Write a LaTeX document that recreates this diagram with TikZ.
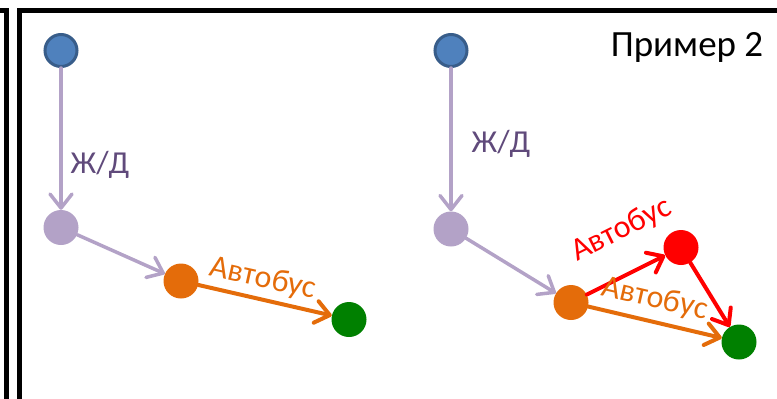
\documentclass[tikz,border=0pt]{standalone}
\usepackage{fontspec}
\setmainfont{Carlito}
\usetikzlibrary{arrows.meta}
\definecolor{nblue}{HTML}{4F81BD}
\definecolor{nblueb}{HTML}{385D8A}
\definecolor{lav}{HTML}{B3A2C7}
\definecolor{lavtxt}{HTML}{604A7B}
\definecolor{org}{HTML}{E46C0A}
\definecolor{grn}{HTML}{008000}
\definecolor{rd}{HTML}{FF0000}
\tikzset{
  dot/.style={circle, inner sep=0pt, minimum size=35pt},
  startdot/.style={dot, fill=nblue, draw=nblueb, line width=3pt, minimum size=32pt},
  lavdot/.style={dot, fill=lav},
  orgdot/.style={dot, fill=org},
  grndot/.style={dot, fill=grn},
  rddot/.style={dot, fill=rd},
  arr/.style={line width=4pt, line cap=round, -{Straight Barb[length=14pt,width=22pt,line cap=round,line join=round]}},
  lavarr/.style={arr, draw=lav, line width=3.5pt},
  orgarr/.style={arr, draw=org},
  rdarr/.style={arr, draw=rd},
  big/.style={font=\fontsize{32}{38}\selectfont},
  title/.style={font=\fontsize{37}{44}\selectfont},
  mid/.style={font=\fontsize{32}{38}\selectfont},
  panel/.style={draw=black, line width=5pt}
}
\begin{document}
\begin{tikzpicture}[x=1pt,y=-1pt]
\useasboundingbox (0,0) rectangle (777,399);
\clip (0,0) rectangle (777,399);
% panels
\draw[panel] (-30,10.5) rectangle (6,430);
\draw[panel] (19,10.5) rectangle (800,430);
% left example
\node[startdot] (a1) at (61,50.5) {};
\node[lavdot] (b1) at (61,227.5) {};
\node[orgdot] (c1) at (181,281) {};
\node[grndot] (d1) at (349,319.5) {};
\draw[lavarr] (a1) -- (b1);
\draw[lavarr] (b1) -- (c1);
\draw[orgarr] (c1) -- (d1);
\node[big, text=lavtxt] (l1) at (100,165) {Ж/Д};
\node[mid, text=org, rotate=-12.5] (m1) at (263,279) {Автобус};
% right example
\node[startdot] (a2) at (451,50.5) {};
\node[lavdot] (b2) at (451,229) {};
\node[orgdot] (c2) at (571,302.5) {};
\node[rddot] (r2) at (681,247.5) {};
\node[grndot] (d2) at (739,342) {};
\draw[lavarr] (a2) -- (b2);
\draw[lavarr] (b2) -- (c2);
\draw[orgarr] (c2) -- (d2);
\draw[rdarr] (c2) -- (r2);
\draw[rdarr] (r2) -- (d2);
\node[big, text=lavtxt] (l2) at (501,144) {Ж/Д};
\node[mid, text=rd, rotate=26.5] (m2) at (621.5,230) {Автобус};
\node[mid, text=org, rotate=-13] (m3) at (655,299) {Автобус};
\node[title, text=black] (t) at (687,47) {Пример 2};
\end{tikzpicture}
\end{document}
